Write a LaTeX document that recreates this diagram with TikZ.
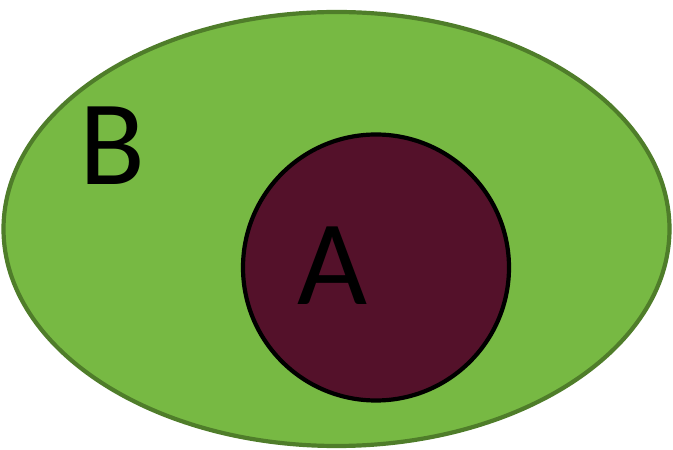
\documentclass[tikz,border=0pt]{standalone}
\usepackage{fontspec}
\setmainfont{Carlito}
\usetikzlibrary{shapes.geometric}
\definecolor{setgreen}{HTML}{77B943}
\definecolor{setedge}{HTML}{4F7D2A}
\definecolor{setred}{HTML}{54112A}

\begin{document}
\begin{tikzpicture}[x=1pt,y=1pt]
                    \useasboundingbox (0,0) rectangle (673,450);
                    % Sets
                    \node[ellipse, draw=setedge, fill=setgreen, line width=4.2pt, minimum width=666pt, minimum height=434pt, inner sep=0pt] (B) at (336.5,221) {};
                    \node[circle, draw=black, fill=setred, line width=4.2pt, minimum size=266pt, inner sep=0pt] (A) at (376,182.5) {};
                    % Labels
                    \node[inner sep=0pt, font=\fontsize{121}{121}\selectfont] (labB) at (112,304) {B};
                    \node[inner sep=0pt, font=\fontsize{121}{121}\selectfont] (labA) at (333,184) {A};
                \end{tikzpicture}
\end{document}
